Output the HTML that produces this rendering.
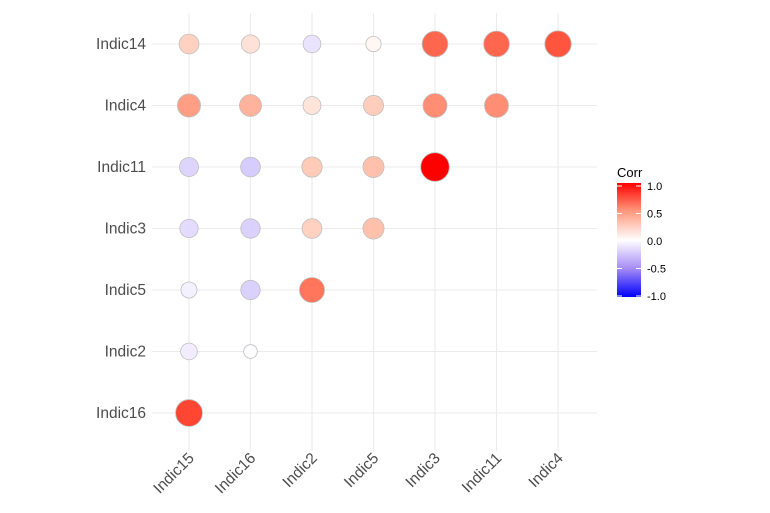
<!DOCTYPE html>
<html><head><meta charset="utf-8"><style>
body{margin:0;background:#fff;}
svg{display:block;font-family:"Liberation Sans",sans-serif;}
</style></head><body>
<svg id="chart" width="770" height="513">
<defs>
<linearGradient id="lg" x1="0" y1="1" x2="0" y2="0">
<stop offset="0" stop-color="#0000ff"/><stop offset="0.25" stop-color="#a58cf5"/>
<stop offset="0.5" stop-color="#ffffff"/><stop offset="0.75" stop-color="#ff9a7e"/>
<stop offset="1" stop-color="#ff0000"/></linearGradient>
</defs>
<g id="grid"></g>
<g id="marks"></g>
<g id="ylab"></g>
<g id="xlab"></g>
<g>
<text x="617" y="177" font-size="13" fill="#000">Corr</text>
<rect x="617" y="183" width="24" height="114" fill="url(#lg)"/>
<g id="leg"></g>
</g>
</svg>
<script>
const rowNames=["Indic14","Indic4","Indic11","Indic3","Indic5","Indic2","Indic16"];
const colNames=["Indic15","Indic16","Indic2","Indic5","Indic3","Indic11","Indic4"];
const corrValues=[
[0.22,0.14,-0.12,0.04,0.68,0.68,0.75],
[0.45,0.36,0.13,0.24,0.52,0.52],
[-0.18,-0.22,0.25,0.3,1.0],
[-0.15,-0.2,0.22,0.3],
[-0.06,-0.2,0.62],
[-0.08,-0.01],
[0.8]];
const legendTicks=[1.0,0.5,0.0,-0.5,-1.0];
const legendLabels=["1.0","0.5","0.0","-0.5","-1.0"];
const NS="http://www.w3.org/2000/svg";
function mk(t,a,p){const e=document.createElementNS(NS,t);for(const k in a)e.setAttribute(k,a[k]);p.appendChild(e);return e;}
const xPos=i=>189+i*61.5, yPos=j=>44+j*61.5;
const legY=v=>241-v*55;
function col(v){const t=Math.min(1,Math.abs(v));
 if(v>=0){const g=255*Math.pow(1-t,0.8);const b=g*(1-0.35*t);return `rgb(255,${Math.round(g)},${Math.round(b)})`;}
 const r=255*Math.pow(1-t,0.7),g=255*Math.pow(1-t,0.9),b=255-10*t;return `rgb(${Math.round(r)},${Math.round(g)},${Math.round(b)})`;}
function rad(v){return 6+8.3*Math.sqrt(Math.abs(v));}
const grid=document.getElementById('grid');
colNames.forEach((c,i)=>{const l=mk('line',{x1:xPos(i),x2:xPos(i),y1:13,y2:451,stroke:'#ebebeb','stroke-width':1.1},grid);
});
rowNames.forEach((r,j)=>{const l=mk('line',{x1:152,x2:597,y1:yPos(j),y2:yPos(j),stroke:'#ebebeb','stroke-width':1.1},grid);
});
const marks=document.getElementById('marks');
corrValues.forEach((row,j)=>row.forEach((v,i)=>{
 const c=mk('circle',{cx:xPos(i),cy:yPos(j),r:rad(v),fill:col(v),stroke:'#bfbfbf','stroke-width':0.8},marks);
 
 
}));
const yl=document.getElementById('ylab');
rowNames.forEach((r,j)=>{const t=mk('text',{x:146,y:yPos(j)+5,'text-anchor':'end','font-size':15.5,fill:'#4d4d4d'},yl);t.textContent=r;
});
const xl=document.getElementById('xlab');
colNames.forEach((c,i)=>{const x=xPos(i)+6,y=459;const t=mk('text',{x:x,y:y,'text-anchor':'end','font-size':15.5,fill:'#4d4d4d',transform:`rotate(-45 ${x} ${y})`},xl);t.textContent=c;
});
const leg=document.getElementById('leg');
legendTicks.forEach((v,k)=>{
 const y=legY(v);
 const a=mk('line',{x1:617,x2:622,y1:y,y2:y,stroke:'#fff','stroke-width':1},leg);
 const b=mk('line',{x1:636,x2:641,y1:y,y2:y,stroke:'#fff','stroke-width':1},leg);
 const t=mk('text',{x:647,y:y+4,'font-size':11,fill:'#000'},leg);t.textContent=legendLabels[k];
 
});
</script>
</body></html>
